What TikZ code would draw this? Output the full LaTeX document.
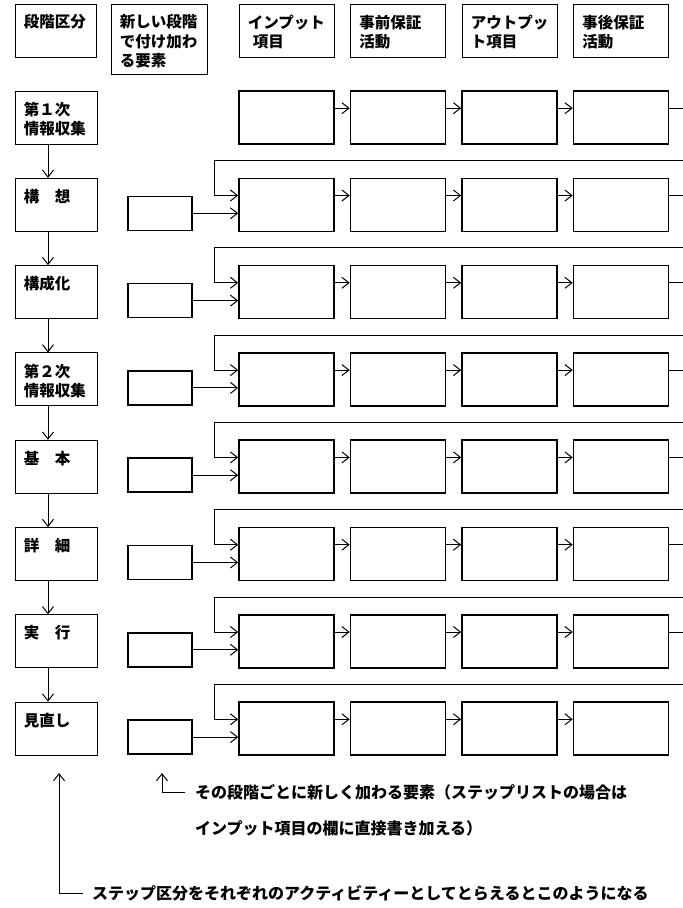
\documentclass[tikz,border=0pt]{standalone}
\usepackage{fontspec}
\newfontfamily\jp{Noto Sans CJK JP}
\usetikzlibrary{positioning,arrows.meta,calc}

\begin{document}
\begin{tikzpicture}[x=1pt, y=-1pt,
    >={Straight Barb[length=7pt,width=11pt]},
    every node/.style={font=\jp\bfseries\fontsize{15.5}{19.5}\selectfont},
    box/.style={draw, line width=1.6pt, minimum width=95pt, minimum height=53pt, inner sep=0pt},
    stage/.style={draw, line width=.9pt, minimum width=82pt, minimum height=53pt, inner sep=0pt},
    head/.style={draw, line width=.9pt, minimum width=95pt, minimum height=53pt, inner sep=0pt},
    extra/.style={draw, line width=1.6pt, minimum width=64pt, minimum height=34pt, inner sep=0pt},
    tl/.style={anchor=north west, inner sep=0pt, xshift=9pt, yshift=-11pt, align=left},
    note/.style={anchor=west, inner sep=0pt, font=\jp\bfseries\fontsize{16}{19}\selectfont},
    line/.style={line width=1pt}]
  \useasboundingbox (0,0) rectangle (683,908);

  % headings
  \node[stage, minimum width=81pt, label={[tl]north west:段階区分}] (h0) at (55.5,30.5) {};
  \node[head, minimum width=96pt, minimum height=70pt,
        label={[tl]north west:新しい段階\\で付け加わ\\る要素}] (h1) at (159,39) {};
  \node[head, label={[tl]north west:インプット\\\hspace{5pt}項目}] (h2) at (286.5,30.5) {};
  \node[head, label={[tl]north west:事前保証\\活動}] (h3) at (398,30.5) {};
  \node[head, label={[tl]north west:アウトプッ\\ト項目}] (h4) at (509.5,30.5) {};
  \node[head, label={[tl]north west:事後保証\\活動}] (h5) at (621,30.5) {};

  % one row per stage
  \foreach \k/\txt in {1/{第１次\\情報収集}, 2/{構\hspace{1em}想}, 3/{構成化},
      4/{第２次\\情報収集}, 5/{基\hspace{1em}本}, 6/{詳\hspace{1em}細},
      7/{実\hspace{1em}行}, 8/{見直し}} {
    \pgfmathsetmacro\yy{117.5+87.3*(\k-1)}
    \node[stage, label={[tl]north west:\txt}] (st\k) at (56,\yy) {};
    \node[box] (a\k) at (286.5,\yy) {};
    \node[box] (b\k) at (398,\yy) {};
    \node[box] (c\k) at (509.5,\yy) {};
    \node[box] (d\k) at (621,\yy) {};
    \draw[->, line] ([yshift=-18pt]a\k.north east) -- ([yshift=-18pt]b\k.north west);
    \draw[->, line] ([yshift=-18pt]b\k.north east) -- ([yshift=-18pt]c\k.north west);
    \draw[->, line] ([yshift=-18pt]c\k.north east) -- ([yshift=-18pt]d\k.north west);
  }
  \foreach \k in {2,...,8} {
    \node[extra] (e\k) at ([yshift=-8.5pt]st\k.center -| 160,0) {};
    \draw[->, line] (e\k.east) -- (e\k.east -| a\k.west);
  }
  \foreach \k [evaluate=\k as \n using int(\k+1)] in {1,...,7} {
    \draw[->, line] ([xshift=-8pt]st\k.south) -- ([xshift=-8pt]st\n.north);
    \draw[->, line] ([yshift=-18pt]d\k.north east) -- ++(14,0)
      |- ([xshift=-24pt,yshift=17pt]a\n.north west) |- ([yshift=-18pt]a\n.north west);
  }

  % notes below
  \coordinate (up1) at (59,773);
  \coordinate (up2) at (162,773);
  \node[note] (n1) at (92,893) {ステップ区分をそれぞれのアクティビティーとしてとらえるとこのようになる};
  \node[note] (n2) at (195,792) {その段階ごとに新しく加わる要素（ステップリストの場合は};
  \node[note] (n3) at (195,828) {インプット項目の欄に直接書き加える）};
  \draw[->, line] ([xshift=-9pt]n1.west) -| (up1);
  \draw[->, line] ([xshift=-10pt]n2.west) -| (up2);
\end{tikzpicture}
\end{document}
